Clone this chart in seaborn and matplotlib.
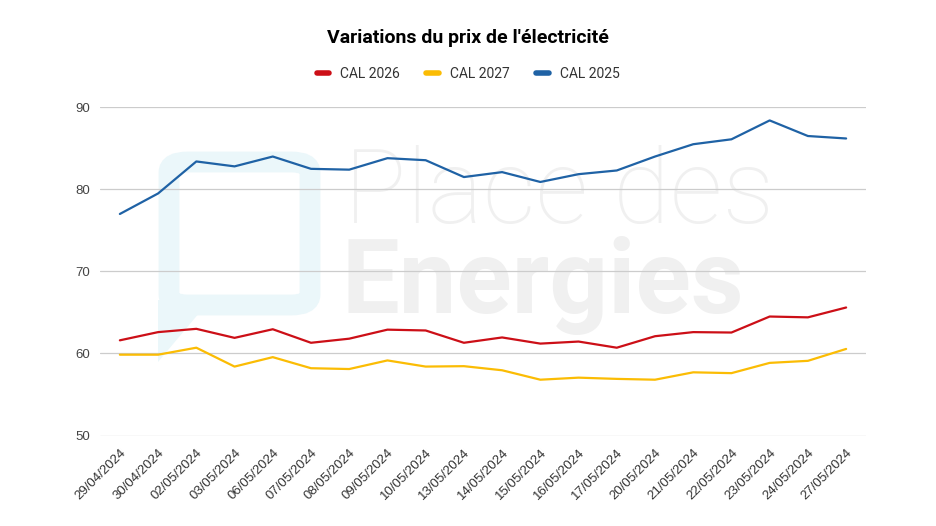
import numpy as np
import pandas as pd
import matplotlib
matplotlib.use("Agg")
import matplotlib.pyplot as plt
import seaborn as sns
from matplotlib.patches import FancyBboxPatch, Polygon
from matplotlib.lines import Line2D

# -------------------------------
# Data
# -------------------------------
dates = ["29/04/2024", "30/04/2024", "02/05/2024", "03/05/2024", "06/05/2024",
         "07/05/2024", "08/05/2024", "09/05/2024", "10/05/2024", "13/05/2024",
         "14/05/2024", "15/05/2024", "16/05/2024", "17/05/2024", "20/05/2024",
         "21/05/2024", "22/05/2024", "23/05/2024", "24/05/2024", "27/05/2024"]

cal_2026 = [61.6, 62.6, 63.0, 61.9, 62.95, 61.3, 61.8, 62.9, 62.8, 61.3,
            61.95, 61.2, 61.45, 60.7, 62.1, 62.6, 62.55, 64.5, 64.4, 65.6]
cal_2027 = [59.85, 59.85, 60.7, 58.4, 59.55, 58.2, 58.1, 59.15, 58.4, 58.45,
            57.95, 56.8, 57.05, 56.9, 56.8, 57.7, 57.6, 58.85, 59.1, 60.55]
cal_2025 = [77.0, 79.5, 83.4, 82.8, 84.0, 82.5, 82.4, 83.8, 83.55, 81.5,
            82.1, 80.9, 81.85, 82.3, 84.0, 85.5, 86.1, 88.4, 86.5, 86.2]

series_names = ["CAL 2026", "CAL 2027", "CAL 2025"]
colors = ["#cc0f17", "#fbbc04", "#1f62a5"]
y_ticks = [50, 60, 70, 80, 90]

df = pd.DataFrame({"pos": np.arange(len(dates)), "date": dates,
                   "CAL 2026": cal_2026, "CAL 2027": cal_2027, "CAL 2025": cal_2025})
long = df.melt(id_vars=["pos", "date"], value_vars=series_names,
               var_name="serie", value_name="prix")

# -------------------------------
# Figure
# -------------------------------
sns.set_style("white")
plt.rcParams["font.family"] = ["Roboto", "DejaVu Sans"]

W, H = 936, 526
fig = plt.figure(figsize=(W / 100, H / 100), dpi=100)
ax = fig.add_axes([100 / W, 1 - 435.5 / H, 766 / W, 328.2 / H])
ax.set_facecolor("none")

def fx(px):
    return px / W

def fy(py):
    return 1 - py / H

# watermark (logo + text)
logo_col = "#ebf7fa"
box = FancyBboxPatch((fx(169), fy(305)), fx(310) - fx(169), fy(162) - fy(305),
                     boxstyle="round,pad=0,rounding_size=0.02",
                     transform=fig.transFigure, facecolor="none",
                     edgecolor=logo_col, linewidth=15, zorder=-2)
fig.patches.append(box)
tail = Polygon([(fx(158), fy(300)), (fx(158), fy(362)), (fx(200), fy(312)), (fx(180), fy(300))],
               closed=True, transform=fig.transFigure, facecolor=logo_col,
               edgecolor="none", zorder=-2)
fig.patches.append(tail)
fig.text(fx(344), fy(223), "Place des", fontsize=75, fontweight="light",
         color="#f0f0f0", ha="left", va="baseline", zorder=-1)
fig.text(fx(342), fy(313), "Energies", fontsize=74, fontweight="bold",
         color="#f0f0f0", ha="left", va="baseline", zorder=-1)

sns.lineplot(data=long, x="pos", y="prix", hue="serie", hue_order=series_names,
             palette=colors, linewidth=1.6, legend=False, ax=ax)

ax.set_xlim(-0.52, len(dates) - 1 + 0.52)
ax.set_ylim(50, 90)
ax.set_yticks(y_ticks)
ax.set_yticklabels([str(v) for v in y_ticks], fontsize=9.5, color="#444444",
                   family=["Liberation Sans", "DejaVu Sans"])
ax.set_xticks(df["pos"])
ax.set_xticklabels(dates, rotation=45, ha="right", rotation_mode="anchor",
                   fontsize=9.5, color="#333333", family=["Liberation Sans", "DejaVu Sans"])
ax.tick_params(axis="y", length=0, pad=7)
ax.tick_params(axis="x", length=0, pad=8)
ax.set_xlabel("")
ax.set_ylabel("")
ax.grid(axis="y", color="#cccccc", linewidth=0.9)
ax.set_axisbelow(True)
sns.despine(ax=ax, left=True, bottom=True, top=True, right=True)

fig.text(0.5, fy(38), "Variations du prix de l'électricité", ha="center", va="center",
         fontsize=14, fontweight="bold", color="#000000")

handles = [Line2D([0], [0], color=c, linewidth=4) for c in colors]
fig.legend(handles, series_names, loc="center", bbox_to_anchor=(0.5, fy(74)),
           ncol=3, frameon=False, fontsize=10, handlelength=0.9,
           handletextpad=0.8, columnspacing=1.9, labelcolor="#333333")

fig.savefig("out.png", dpi=100)
